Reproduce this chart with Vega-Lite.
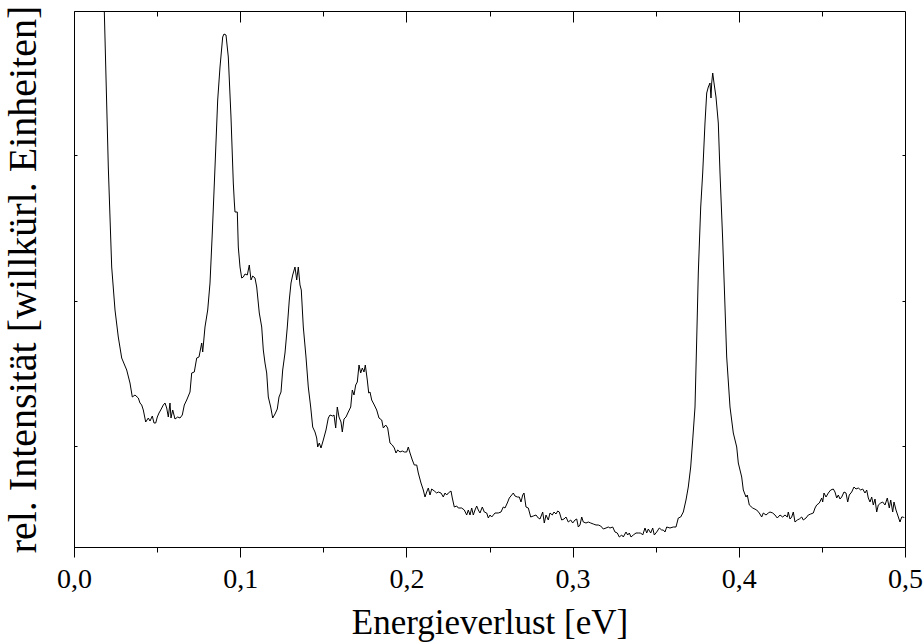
{
"$schema": "https://vega.github.io/schema/vega-lite/v6.json",
"width": 831, "height": 536,
"autosize": {"type": "none"},
"padding": {"left": 74, "top": 11, "right": 18, "bottom": 97},
"background": "white",
"config": {"view": {"stroke": "#000", "strokeWidth": 1}, "font": "Liberation Serif, Times New Roman, Times, serif",
  "axis": {"domainColor": "#000", "domainWidth": 1, "tickColor": "#000", "tickWidth": 1, "labelColor": "#000", "titleColor": "#000", "grid": false, "labelFont": "Liberation Serif, Times New Roman, Times, serif", "titleFont": "Liberation Serif, Times New Roman, Times, serif", "titleFontWeight": "normal"}},
"data": {"values": [
{"x":0.01775,"y":567},{"x":0.01823,"y":536},{"x":0.02064,"y":380},{"x":0.02268,"y":280},{"x":0.02467,"y":237},{"x":0.02665,"y":210},{"x":0.0287,"y":189},{"x":0.03171,"y":177},{"x":0.03369,"y":164},{"x":0.03508,"y":150},{"x":0.0367,"y":152},{"x":0.03869,"y":149},{"x":0.03971,"y":144},{"x":0.04073,"y":142},{"x":0.0417,"y":137},{"x":0.04314,"y":125},{"x":0.04471,"y":129},{"x":0.04573,"y":126},{"x":0.04711,"y":131},{"x":0.04813,"y":124},{"x":0.04916,"y":124},{"x":0.05012,"y":130},{"x":0.05114,"y":134},{"x":0.05217,"y":137},{"x":0.05373,"y":142},{"x":0.05475,"y":144},{"x":0.05578,"y":139},{"x":0.05674,"y":130},{"x":0.05776,"y":144},{"x":0.05836,"y":129},{"x":0.05939,"y":137},{"x":0.06077,"y":128},{"x":0.06239,"y":130},{"x":0.06378,"y":129},{"x":0.06516,"y":132},{"x":0.06637,"y":142},{"x":0.06781,"y":147},{"x":0.0698,"y":155},{"x":0.07082,"y":174},{"x":0.07238,"y":175},{"x":0.07383,"y":189},{"x":0.07521,"y":190},{"x":0.07684,"y":204},{"x":0.07744,"y":195},{"x":0.07882,"y":220},{"x":0.08045,"y":237},{"x":0.08183,"y":264},{"x":0.08321,"y":314},{"x":0.08484,"y":380},{"x":0.08646,"y":447},{"x":0.08785,"y":480},{"x":0.08947,"y":510},{"x":0.09025,"y":513},{"x":0.09146,"y":512},{"x":0.09284,"y":490},{"x":0.09446,"y":430},{"x":0.09585,"y":364},{"x":0.09646,"y":345},{"x":0.09687,"y":335},{"x":0.09826,"y":335},{"x":0.09886,"y":300},{"x":0.09988,"y":280},{"x":0.1009,"y":269},{"x":0.10187,"y":270},{"x":0.10289,"y":273},{"x":0.10427,"y":272},{"x":0.10548,"y":282},{"x":0.1065,"y":267},{"x":0.10752,"y":271},{"x":0.1089,"y":269},{"x":0.10993,"y":260},{"x":0.11149,"y":234},{"x":0.11294,"y":220},{"x":0.1139,"y":197},{"x":0.11492,"y":184},{"x":0.11594,"y":174},{"x":0.11691,"y":150},{"x":0.11835,"y":140},{"x":0.11955,"y":129},{"x":0.12094,"y":133},{"x":0.12232,"y":138},{"x":0.12335,"y":150},{"x":0.12455,"y":155},{"x":0.12557,"y":177},{"x":0.12695,"y":194},{"x":0.12834,"y":220},{"x":0.12954,"y":247},{"x":0.13057,"y":264},{"x":0.13159,"y":272},{"x":0.13297,"y":280},{"x":0.134,"y":267},{"x":0.13496,"y":280},{"x":0.13598,"y":262},{"x":0.13676,"y":257},{"x":0.13797,"y":220},{"x":0.13959,"y":190},{"x":0.14097,"y":160},{"x":0.14242,"y":140},{"x":0.14362,"y":120},{"x":0.14501,"y":115},{"x":0.14603,"y":109},{"x":0.14663,"y":100},{"x":0.14759,"y":104},{"x":0.14862,"y":99},{"x":0.15,"y":107},{"x":0.15162,"y":117},{"x":0.15301,"y":129},{"x":0.15403,"y":132},{"x":0.15566,"y":131},{"x":0.15644,"y":132},{"x":0.15746,"y":119},{"x":0.15842,"y":140},{"x":0.15945,"y":130},{"x":0.16065,"y":125},{"x":0.16143,"y":115},{"x":0.16245,"y":128},{"x":0.16366,"y":130},{"x":0.16504,"y":135},{"x":0.16649,"y":140},{"x":0.16745,"y":157},{"x":0.16847,"y":152},{"x":0.16949,"y":162},{"x":0.17046,"y":165},{"x":0.17148,"y":182},{"x":0.1725,"y":174},{"x":0.17347,"y":179},{"x":0.17449,"y":175},{"x":0.17527,"y":182},{"x":0.17647,"y":167},{"x":0.17732,"y":154},{"x":0.1781,"y":155},{"x":0.17912,"y":147},{"x":0.18069,"y":142},{"x":0.18213,"y":137},{"x":0.18351,"y":129},{"x":0.18514,"y":127},{"x":0.1861,"y":119},{"x":0.18755,"y":122},{"x":0.18875,"y":119},{"x":0.19013,"y":104},{"x":0.19152,"y":102},{"x":0.19272,"y":99},{"x":0.19374,"y":94},{"x":0.19477,"y":97},{"x":0.19615,"y":95},{"x":0.19753,"y":96},{"x":0.19874,"y":95},{"x":0.20018,"y":95},{"x":0.20114,"y":100},{"x":0.20217,"y":94},{"x":0.20355,"y":87},{"x":0.20475,"y":82},{"x":0.2062,"y":82},{"x":0.20716,"y":74},{"x":0.20878,"y":64},{"x":0.21017,"y":57},{"x":0.21119,"y":50},{"x":0.21221,"y":55},{"x":0.21318,"y":59},{"x":0.2142,"y":52},{"x":0.21522,"y":58},{"x":0.21679,"y":56},{"x":0.21823,"y":54},{"x":0.21919,"y":55},{"x":0.22082,"y":54},{"x":0.2222,"y":50},{"x":0.22323,"y":54},{"x":0.22425,"y":52},{"x":0.22521,"y":54},{"x":0.22683,"y":56},{"x":0.22762,"y":49},{"x":0.22882,"y":40},{"x":0.23027,"y":41},{"x":0.23123,"y":39},{"x":0.23327,"y":39},{"x":0.23484,"y":37},{"x":0.23628,"y":32},{"x":0.23724,"y":37},{"x":0.23827,"y":32},{"x":0.23929,"y":39},{"x":0.24025,"y":32},{"x":0.24128,"y":37},{"x":0.2423,"y":41},{"x":0.24326,"y":37},{"x":0.24428,"y":34},{"x":0.24567,"y":40},{"x":0.24687,"y":35},{"x":0.24832,"y":34},{"x":0.24928,"y":29},{"x":0.2503,"y":32},{"x":0.25132,"y":30},{"x":0.25331,"y":34},{"x":0.25529,"y":34},{"x":0.25692,"y":35},{"x":0.2583,"y":40},{"x":0.25933,"y":39},{"x":0.26071,"y":44},{"x":0.26191,"y":49},{"x":0.26336,"y":52},{"x":0.26432,"y":54},{"x":0.26534,"y":51},{"x":0.26673,"y":50},{"x":0.26793,"y":50},{"x":0.26895,"y":45},{"x":0.26998,"y":52},{"x":0.27076,"y":54},{"x":0.27196,"y":40},{"x":0.27335,"y":39},{"x":0.27479,"y":30},{"x":0.27636,"y":31},{"x":0.27798,"y":32},{"x":0.27936,"y":29},{"x":0.28039,"y":28},{"x":0.28201,"y":35},{"x":0.28297,"y":24},{"x":0.284,"y":32},{"x":0.28538,"y":27},{"x":0.2864,"y":34},{"x":0.28779,"y":32},{"x":0.28881,"y":35},{"x":0.29001,"y":33},{"x":0.29103,"y":36},{"x":0.292,"y":35},{"x":0.29344,"y":27},{"x":0.29483,"y":28},{"x":0.29603,"y":30},{"x":0.29741,"y":25},{"x":0.29886,"y":27},{"x":0.30006,"y":24},{"x":0.30144,"y":27},{"x":0.30247,"y":28},{"x":0.30343,"y":20},{"x":0.30445,"y":22},{"x":0.30548,"y":30},{"x":0.30644,"y":25},{"x":0.30806,"y":24},{"x":0.30945,"y":25},{"x":0.31089,"y":24},{"x":0.31246,"y":23},{"x":0.31408,"y":22},{"x":0.31546,"y":22},{"x":0.31691,"y":21},{"x":0.31847,"y":18},{"x":0.3201,"y":19},{"x":0.32148,"y":20},{"x":0.3225,"y":19},{"x":0.32413,"y":20},{"x":0.32551,"y":15},{"x":0.3269,"y":14},{"x":0.3281,"y":10},{"x":0.32954,"y":12},{"x":0.33051,"y":10},{"x":0.33213,"y":15},{"x":0.33315,"y":12},{"x":0.33412,"y":14},{"x":0.33514,"y":10},{"x":0.33652,"y":12},{"x":0.33815,"y":14},{"x":0.33953,"y":14},{"x":0.34097,"y":14},{"x":0.34218,"y":12},{"x":0.34356,"y":19},{"x":0.34458,"y":14},{"x":0.34555,"y":18},{"x":0.34699,"y":14},{"x":0.34819,"y":19},{"x":0.34916,"y":12},{"x":0.3506,"y":15},{"x":0.35217,"y":19},{"x":0.35361,"y":17},{"x":0.35457,"y":17},{"x":0.3556,"y":15},{"x":0.35662,"y":20},{"x":0.3586,"y":19},{"x":0.36059,"y":20},{"x":0.36221,"y":20},{"x":0.3636,"y":29},{"x":0.36504,"y":30},{"x":0.36661,"y":35},{"x":0.36823,"y":47},{"x":0.36961,"y":60},{"x":0.37106,"y":80},{"x":0.37226,"y":107},{"x":0.37365,"y":140},{"x":0.37467,"y":207},{"x":0.37563,"y":274},{"x":0.37708,"y":340},{"x":0.37828,"y":374},{"x":0.37966,"y":424},{"x":0.38069,"y":454},{"x":0.38165,"y":460},{"x":0.38267,"y":464},{"x":0.38327,"y":449},{"x":0.38369,"y":464},{"x":0.3843,"y":474},{"x":0.38508,"y":464},{"x":0.38628,"y":450},{"x":0.38767,"y":424},{"x":0.38869,"y":374},{"x":0.39031,"y":307},{"x":0.3917,"y":240},{"x":0.39272,"y":190},{"x":0.39471,"y":140},{"x":0.39669,"y":114},{"x":0.39874,"y":100},{"x":0.3997,"y":84},{"x":0.40174,"y":70},{"x":0.40271,"y":57},{"x":0.40433,"y":50},{"x":0.40511,"y":52},{"x":0.40632,"y":42},{"x":0.40836,"y":39},{"x":0.41077,"y":37},{"x":0.41233,"y":34},{"x":0.41378,"y":30},{"x":0.41474,"y":34},{"x":0.41637,"y":32},{"x":0.41775,"y":34},{"x":0.41877,"y":35},{"x":0.4204,"y":34},{"x":0.42178,"y":32},{"x":0.42316,"y":29},{"x":0.42479,"y":32},{"x":0.42641,"y":30},{"x":0.4278,"y":32},{"x":0.42918,"y":30},{"x":0.42978,"y":35},{"x":0.43081,"y":28},{"x":0.43183,"y":30},{"x":0.43279,"y":35},{"x":0.43381,"y":25},{"x":0.4352,"y":27},{"x":0.4364,"y":28},{"x":0.43785,"y":30},{"x":0.43881,"y":27},{"x":0.44043,"y":29},{"x":0.44182,"y":32},{"x":0.44326,"y":33},{"x":0.44483,"y":34},{"x":0.44585,"y":39},{"x":0.44687,"y":42},{"x":0.44844,"y":44},{"x":0.44988,"y":49},{"x":0.45048,"y":45},{"x":0.45126,"y":54},{"x":0.45247,"y":50},{"x":0.45385,"y":54},{"x":0.45529,"y":57},{"x":0.45686,"y":58},{"x":0.45788,"y":55},{"x":0.4589,"y":49},{"x":0.45987,"y":52},{"x":0.46089,"y":48},{"x":0.46191,"y":50},{"x":0.4633,"y":55},{"x":0.4645,"y":54},{"x":0.46552,"y":45},{"x":0.46648,"y":52},{"x":0.46793,"y":55},{"x":0.46931,"y":60},{"x":0.47052,"y":58},{"x":0.4719,"y":59},{"x":0.47335,"y":57},{"x":0.47455,"y":58},{"x":0.47593,"y":54},{"x":0.47696,"y":57},{"x":0.47792,"y":49},{"x":0.47894,"y":45},{"x":0.47996,"y":50},{"x":0.48093,"y":42},{"x":0.48195,"y":48},{"x":0.48297,"y":35},{"x":0.48394,"y":42},{"x":0.48538,"y":44},{"x":0.48658,"y":45},{"x":0.48797,"y":42},{"x":0.48935,"y":49},{"x":0.49055,"y":39},{"x":0.4914,"y":47},{"x":0.4926,"y":35},{"x":0.49338,"y":45},{"x":0.49458,"y":37},{"x":0.49599,"y":30},{"x":0.49699,"y":25},{"x":0.49801,"y":30},{"x":0.49898,"y":30},{"x":0.49958,"y":29}
]},
"layer": [
 {"mark": {"type": "line", "color": "#000", "strokeWidth": 1, "clip": true},
  "encoding": {
   "x": {"field": "x", "type": "quantitative", "scale": {"domain": [0, 0.5], "nice": false, "zero": false},
    "axis": {"orient": "bottom", "values": [0, 0.05, 0.1, 0.15, 0.2, 0.25, 0.3, 0.35, 0.4, 0.45, 0.5],
     "tickSize": {"condition": {"test": "round(datum.value*100)%10==0", "value": 10}, "value": 5},
     "labelExpr": "round(datum.value*100)%10==0 ? replace(format(datum.value,'.1f'),'.',',') : ''",
     "labelFontSize": 28, "labelPadding": 8, "labelFlush": false, "labelOverlap": false, "labelBound": false,
     "title": "Energieverlust [eV]", "titleFontSize": 35, "titlePadding": 12}},
   "y": {"field": "y", "type": "quantitative", "scale": {"domain": [0, 536], "nice": false, "zero": false},
    "axis": {"orient": "left", "values": [101, 246.5, 392], "labels": false, "tickSize": -3,
     "title": "rel. Intensität [willkürl. Einheiten]", "titleFontSize": 40, "titlePadding": 30}}
  }},
 {"mark": {"type": "line", "opacity": 0},
  "encoding": {
   "x": {"field": "x", "type": "quantitative", "scale": {"domain": [0, 0.5], "nice": false, "zero": false},
    "axis": {"orient": "top", "values": [0.1, 0.2, 0.3, 0.4], "tickSize": -11, "labels": false, "title": null, "domain": false}},
   "y": {"field": "y", "type": "quantitative", "scale": {"domain": [0, 536], "nice": false, "zero": false},
    "axis": {"orient": "right", "values": [101, 246.5, 392], "tickSize": -3, "labels": false, "title": null, "domain": false}}
  }},
 {"mark": {"type": "line", "opacity": 0},
  "encoding": {
   "x": {"field": "x", "type": "quantitative", "scale": {"domain": [0, 0.5], "nice": false, "zero": false},
    "axis": {"orient": "top", "values": [0.05, 0.15, 0.25, 0.35, 0.45], "tickSize": -5, "labels": false, "title": null, "domain": false}},
   "y": {"field": "y", "type": "quantitative", "scale": {"domain": [0, 536], "nice": false, "zero": false}, "axis": null}
  }}
],
"resolve": {"axis": {"x": "independent", "y": "independent"}}
}
